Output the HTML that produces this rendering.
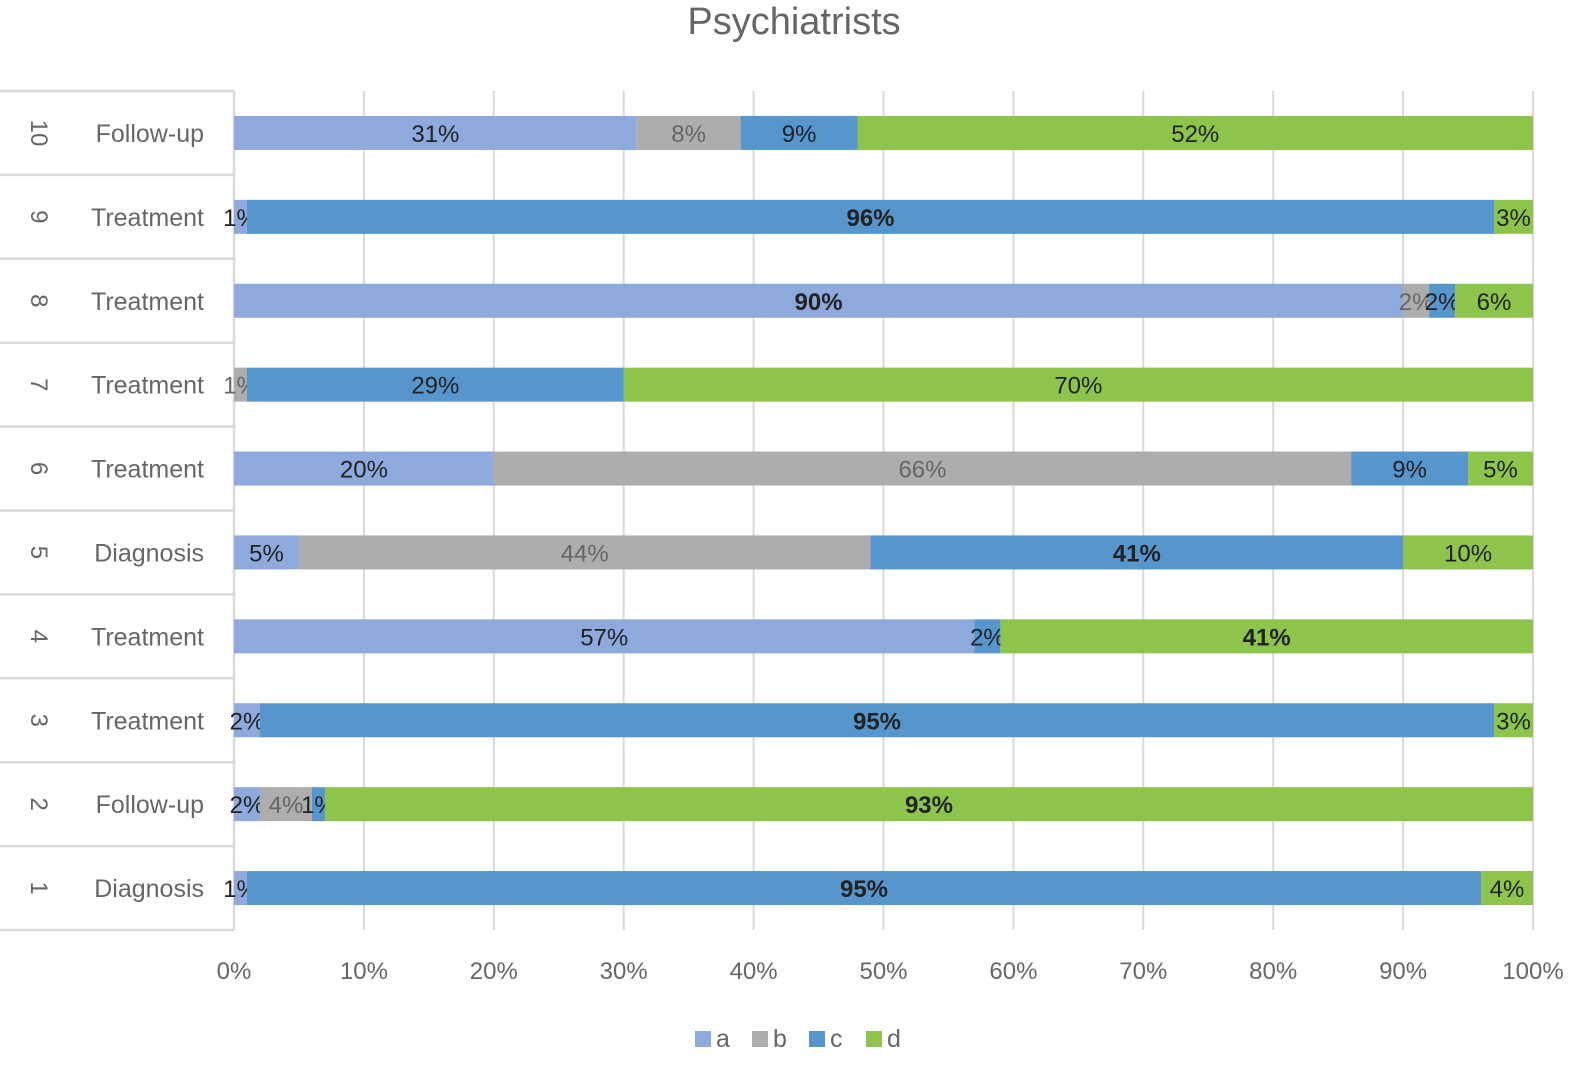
<!DOCTYPE html>
<html><head><meta charset="utf-8"><style>
html,body{margin:0;padding:0;background:#fff;}
svg{display:block;font-family:"Liberation Sans",sans-serif;}
</style></head><body>
<svg id="chart" width="1596" height="1067" viewBox="0 0 1596 1067">
<text x="794" y="34" text-anchor="middle" font-size="38" fill="#666">Psychiatrists</text>
<g id="grid"></g><g id="cats"></g><g id="bars"></g><g id="ticks"></g><g id="legend"></g>
</svg>
<script>
const rowIds = [1,2,3,4,5,6,7,8,9,10];
const rowNames = ["Diagnosis","Follow-up","Treatment","Treatment","Diagnosis","Treatment","Treatment","Treatment","Treatment","Follow-up"];
const seriesNames = ["a","b","c","d"];
const seriesA = [1,2,2,57,5,20,0,90,1,31];
const seriesB = [0,4,0,0,44,66,1,2,0,8];
const seriesC = [95,1,95,2,41,9,29,2,96,9];
const seriesD = [4,93,3,41,10,5,70,6,3,52];
const boldThreshold = 80;
const boldExtra = [[4,2],[3,3]]; // zero-based row index, series index bold labels (41%)
const tickLabels = ["0%","10%","20%","30%","40%","50%","60%","70%","80%","90%","100%"];
const colors = ["#8EA9DB","#ADADAD","#5796CC","#8DC44B"];
const labelColors = ["#222","#666","#222","#222"];
const NS="http://www.w3.org/2000/svg";
const x0=234,x1=1533,yTop=91,rowH=83.9,barH=34;
const xs=v=>x0+(x1-x0)*v/100;
const yc=i=>yTop+rowH*(rowIds.length-1-i)+rowH/2;
function mk(tag,attrs,parent){const e=document.createElementNS(NS,tag);for(const k in attrs)e.setAttribute(k,attrs[k]);parent.appendChild(e);return e;}
const grid=document.getElementById('grid'),cats=document.getElementById('cats'),bars=document.getElementById('bars'),ticks=document.getElementById('ticks'),legend=document.getElementById('legend');
const yBot=yTop+rowH*rowIds.length;
tickLabels.forEach((t,k)=>{
  const x=xs(k*10);
  const l=mk('line',{x1:x,x2:x,y1:yTop,y2:yBot,stroke:'#d9d9d9','stroke-width':2},grid);
  
  
  const tx=mk('text',{x:x,y:979,'text-anchor':'middle','font-size':24,fill:'#666'},ticks);
  tx.textContent=t;
  
  
});
for(let k=0;k<=rowIds.length;k++){
  const y=yTop+rowH*k;
  const l=mk('line',{x1:0,x2:x0,y1:y,y2:y,stroke:'#d9d9d9','stroke-width':2.5},cats);
  
  
}
const va=mk('line',{x1:x0,x2:x0,y1:yTop,y2:yBot,stroke:'#d9d9d9','stroke-width':2.5},cats);


const series=[seriesA,seriesB,seriesC,seriesD];
rowIds.forEach((id,i)=>{
  const y=yc(i);
  const n=mk('text',{x:0,y:0,'text-anchor':'middle','font-size':24,fill:'#666',transform:`translate(31,${y}) rotate(90)`},cats);
  n.textContent=id;
  
  
  const c=mk('text',{x:204,y:y+9,'text-anchor':'end','font-size':25,fill:'#666'},cats);
  c.textContent=rowNames[i];
  
  
  let acc=0;
  series.forEach((s,j)=>{
    const v=s[i]; if(v<=0) return;
    const r=mk('rect',{x:xs(acc),y:y-barH/2,width:xs(acc+v)-xs(acc),height:barH,fill:colors[j]},bars);
    
    
    const bold=v>=boldThreshold||boldExtra.some(b=>b[0]===i&&b[1]===j);
    const t=mk('text',{x:(xs(acc)+xs(acc+v))/2,y:y+9,'text-anchor':'middle','font-size':24,fill:labelColors[j],'font-weight':bold?'bold':'normal'},bars);
    t.textContent=v+'%';
    
    
    acc+=v;
  });
});
seriesNames.forEach((s,j)=>{
  const x=695+j*57;
  const r=mk('rect',{x:x,y:1031,width:16,height:16,fill:colors[j]},legend);
  
  
  const t=mk('text',{x:x+21,y:1047,'font-size':25,fill:'#666'},legend);
  t.textContent=s;
  
  
});
</script>
</body></html>
